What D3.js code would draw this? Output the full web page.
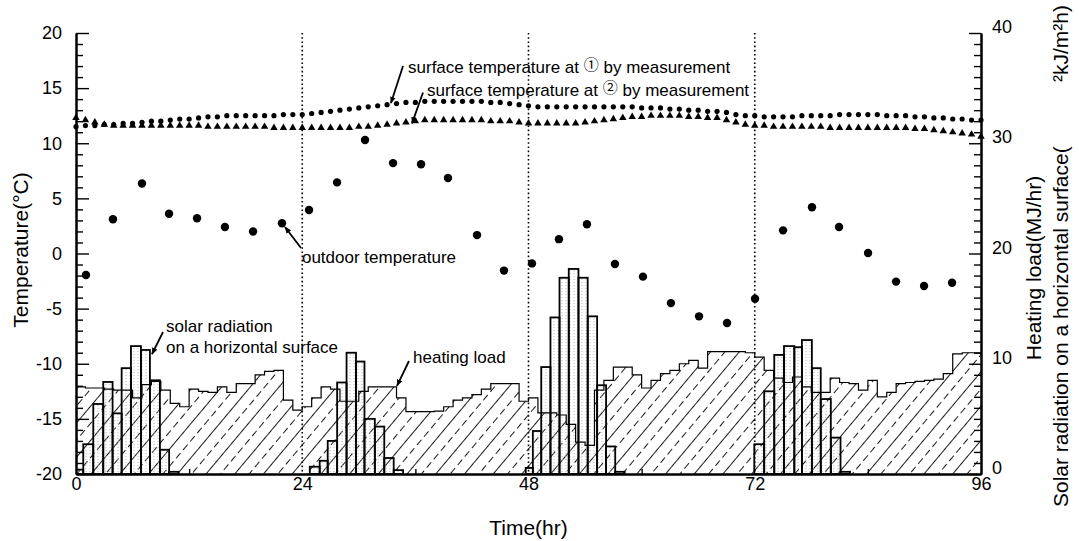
<!DOCTYPE html>
<html>
<head>
<meta charset="utf-8">
<script src="https://cdn.jsdelivr.net/npm/d3@7/dist/d3.min.js"></script>
<style>
body { margin: 0; background: #fff; }
text { font-family: "Liberation Sans", Arial, sans-serif; fill: #000; }
</style>
</head>
<body>
<script>
// ---- data ----
var hours = d3.range(0, 97);   // hourly points of the surface temperatures

var surfTemp1 = [11.5, 11.6, 11.6, 11.7, 11.7, 11.8, 11.8, 11.9, 12.0, 12.0,
  12.1, 12.2, 12.2, 12.3, 12.4, 12.4, 12.5, 12.5, 12.5, 12.5,
  12.5, 12.5, 12.6, 12.6, 12.6, 12.7, 12.8, 12.9, 13.0, 13.1,
  13.2, 13.3, 13.4, 13.5, 13.6, 13.7, 13.7, 13.8, 13.8, 13.8,
  13.8, 13.8, 13.8, 13.8, 13.7, 13.7, 13.6, 13.5, 13.4, 13.3,
  13.3, 13.3, 13.3, 13.3, 13.3, 13.3, 13.3, 13.3, 13.3, 13.3,
  13.2, 13.2, 13.2, 13.1, 13.1, 13.0, 13.0, 12.9, 12.9, 12.8,
  12.6, 12.5, 12.5, 12.4, 12.4, 12.4, 12.4, 12.5, 12.5, 12.5,
  12.5, 12.6, 12.6, 12.6, 12.6, 12.6, 12.5, 12.5, 12.5, 12.4,
  12.4, 12.3, 12.3, 12.2, 12.2, 12.1, 12.1];

var surfTemp2 = [12.3, 12.1, 11.9, 11.7, 11.6, 11.6, 11.6, 11.6, 11.6, 11.6,
  11.6, 11.6, 11.6, 11.6, 11.5, 11.5, 11.5, 11.5, 11.5, 11.5,
  11.5, 11.4, 11.4, 11.4, 11.4, 11.4, 11.4, 11.4, 11.4, 11.4,
  11.5, 11.5, 11.6, 11.7, 11.8, 11.9, 12.0, 12.1, 12.1, 12.1,
  12.1, 12.1, 12.1, 12.1, 12.0, 12.0, 12.0, 11.9, 11.8, 11.8,
  11.8, 11.8, 11.8, 11.8, 11.9, 12.0, 12.1, 12.2, 12.3, 12.4,
  12.4, 12.5, 12.5, 12.5, 12.5, 12.4, 12.4, 12.3, 12.3, 12.1,
  11.9, 11.7, 11.6, 11.6, 11.5, 11.5, 11.5, 11.5, 11.5, 11.5,
  11.4, 11.4, 11.4, 11.4, 11.4, 11.4, 11.4, 11.4, 11.4, 11.3,
  11.3, 11.2, 11.1, 11.0, 10.9, 10.8, 10.6];

var outdoorHours = [1.06, 3.92, 7.0, 9.87, 12.84, 15.8, 18.78, 21.85, 24.72, 27.69,
  30.66, 33.63, 36.6, 39.46, 42.54, 45.4, 48.37, 51.23, 54.2, 57.17,
  60.14, 63.11, 66.09, 69.06, 72.03, 75.0, 78.07, 80.94, 84.02, 86.99,
  89.96, 92.93];
var outdoorTemp = [-1.95, 3.1, 6.35, 3.6, 3.2, 2.4, 2.0, 2.75, 3.95, 6.45,
  10.3, 8.2, 8.1, 6.85, 1.67, -1.55, -0.9, 1.3, 2.65, -0.95,
  -2.1, -4.5, -5.7, -6.3, -4.1, 2.1, 4.2, 2.4, 0.05, -2.55,
  -2.95, -2.65];

// heating load, one value per hour (hour k .. k+1), MJ/hr
var heatingLoad = [7.9, 7.8, 7.8, 7.7, 7.6, 7.6, 6.9, 8.1, 8.4, 7.6,
  6.4, 6.1, 7.7, 7.5, 7.4, 7.9, 7.4, 8.2, 8.2, 9.0,
  9.3, 9.4, 6.7, 5.8, 6.1, 6.9, 7.9, 7.7, 6.6, 6.6,
  7.5, 7.9, 7.9, 7.9, 6.9, 5.65, 5.65, 5.65, 5.7, 6.1,
  6.7, 6.9, 7.2, 7.7, 8.2, 8.2, 8.2, 6.6, 6.9, 5.55,
  5.55, 5.35, 4.5, 2.9, 2.6, 7.6, 8.5, 9.7, 9.7, 9.0,
  7.8, 8.5, 9.1, 9.4, 10.0, 10.3, 9.6, 11.1, 11.1, 11.1,
  11.1, 11.0, 10.6, 9.4, 8.7, 8.3, 8.8, 7.9, 7.4, 7.4,
  8.7, 8.3, 8.2, 7.6, 8.5, 7.0, 7.4, 8.2, 8.3, 8.4,
  8.5, 8.6, 9.1, 10.9, 11.0, 11.0];

// solar radiation bars: left edge (hr) and height
var solarStart = [-0.22, 0.77, 1.83, 2.89, 3.88, 4.84, 5.83, 6.89, 7.84, 8.9, 9.88,
  24.8, 25.85, 26.7, 27.7, 28.7, 29.7, 30.6, 31.7, 32.7, 33.7,
  47.7, 48.46, 49.35, 50.33, 51.29, 52.27, 53.3, 54.28, 55.28, 56.23, 57.2,
  71.95, 73.0, 74.07, 75.1, 76.2, 77.0, 78.06, 79.0, 80.07, 81.1];
var solarValue = [0.4, 2.7, 6.35, 8.35, 5.5, 9.6, 11.6, 11.25, 8.5, 2.2, 0.2,
  0.66, 1.2, 3.0, 8.3, 11.0, 10.2, 5.0, 4.3, 1.45, 0.35,
  0.55, 3.9, 9.7, 14.2, 17.8, 18.6, 17.8, 14.3, 8.05, 2.5, 0.2,
  2.7, 7.5, 10.8, 11.6, 11.5, 12.15, 9.6, 6.8, 3.3, 0.2];

var timeTicks = [0, 24, 48, 72, 96];
var tempTicks = [-20, -15, -10, -5, 0, 5, 10, 15, 20];
var loadTicks = [0, 10, 20, 30, 40];
var dayLines = [24, 48, 72];

// ---- layout ----
var width = 1079, height = 541;
var x = d3.scaleLinear().domain([0, 96]).range([76, 981]);
var yL = d3.scaleLinear().domain([-20, 20]).range([474, 33]);
var yR = d3.scaleLinear().domain([0, 40]).range([474, 33]);

var svg = d3.select("body").append("svg")
    .attr("width", width)
    .attr("height", height);

var defs = svg.append("defs");

// diagonal hatch for the heating load, solid and dashed lines in turn
var hatch = defs.append("pattern")
    .attr("id", "hatch")
    .attr("patternUnits", "userSpaceOnUse")
    .attr("width", 22).attr("height", 22)
    .attr("patternTransform", "rotate(40)");
hatch.append("line").attr("x1", 0.5).attr("y1", 0).attr("x2", 0.5).attr("y2", 22)
    .attr("stroke", "#000").attr("stroke-width", 0.9);
hatch.append("line").attr("x1", 11.5).attr("y1", 0).attr("x2", 11.5).attr("y2", 22)
    .attr("stroke", "#000").attr("stroke-width", 0.9).attr("stroke-dasharray", "7,4");

// faint stipple inside the solar bars
var stip = defs.append("pattern")
    .attr("id", "stipple")
    .attr("patternUnits", "userSpaceOnUse")
    .attr("width", 4).attr("height", 3);
stip.append("rect").attr("x", 1.5).attr("y", 0).attr("width", 1).attr("height", 1.2)
    .attr("fill", "#bbb");

defs.append("clipPath").attr("id", "plotclip")
  .append("rect").attr("x", x(0)).attr("y", yL(20)).attr("width", x(96) - x(0)).attr("height", yL(-20) - yL(20));

defs.append("marker")
    .attr("id", "arrow")
    .attr("viewBox", "0 0 10 10")
    .attr("refX", 9).attr("refY", 5)
    .attr("markerWidth", 7).attr("markerHeight", 7)
    .attr("markerUnits", "userSpaceOnUse")
    .attr("orient", "auto")
  .append("path").attr("d", "M0,1 L10,5 L0,9 Z").attr("fill", "#000");

var plot = svg.append("g").attr("clip-path", "url(#plotclip)");

// heating load: hatched step area
var loadPts = heatingLoad.map(function(v, i) { return [i, v]; });
loadPts.push([96, heatingLoad[heatingLoad.length - 1]]);

plot.append("path")
    .datum(loadPts)
    .attr("fill", "url(#hatch)")
    .attr("d", d3.area().curve(d3.curveStepAfter)
        .x(function(d) { return x(d[0]); })
        .y0(yR(0))
        .y1(function(d) { return yR(d[1]); }));

// solar radiation bars
var bars = solarStart.map(function(s, i) {
  var next = solarStart[i + 1];
  var w = (next !== undefined && next - s < 1.5) ? next - s : 1;
  return { start: s, w: w, v: solarValue[i] };
});

plot.selectAll(".bar")
    .data(bars)
  .enter().append("rect")
    .attr("class", "bar")
    .attr("x", function(d) { return x(d.start); })
    .attr("width", function(d) { return x(d.start + d.w) - x(d.start); })
    .attr("y", function(d) { return yR(d.v); })
    .attr("height", function(d) { return yR(0) - yR(d.v); })
    .attr("fill", "url(#stipple)");

// step outline of the heating load
plot.append("path")
    .datum(loadPts)
    .attr("fill", "none")
    .attr("stroke", "#000")
    .attr("stroke-width", 1.2)
    .attr("d", d3.line().curve(d3.curveStepAfter)
        .x(function(d) { return x(d[0]); })
        .y(function(d) { return yR(d[1]); }));

plot.selectAll(".barline")
    .data(bars)
  .enter().append("rect")
    .attr("class", "barline")
    .attr("x", function(d) { return x(d.start); })
    .attr("width", function(d) { return x(d.start + d.w) - x(d.start); })
    .attr("y", function(d) { return yR(d.v); })
    .attr("height", function(d) { return yR(0) - yR(d.v); })
    .attr("fill", "none")
    .attr("stroke", "#000")
    .attr("stroke-width", 1.8);

// dotted day lines
svg.selectAll(".day")
    .data(dayLines)
  .enter().append("line")
    .attr("class", "day")
    .attr("x1", function(d) { return x(d); })
    .attr("x2", function(d) { return x(d); })
    .attr("y1", yL(20))
    .attr("y2", yL(-20))
    .attr("stroke", "#000")
    .attr("stroke-width", 1.6)
    .attr("stroke-dasharray", "1.6,2.6");

// ---- axes ----
var plain = function(d) { return String(d); };

var axL = svg.append("g").attr("transform", "translate(" + x(0) + ",0)");
axL.call(d3.axisLeft(yL).tickValues(tempTicks).tickFormat(plain)
    .tickSizeInner(-13).tickSizeOuter(0).tickPadding(14));
axL.append("g").call(d3.axisLeft(yL)
    .tickValues(d3.range(-20, 21).filter(function(v) { return v % 5 !== 0; }))
    .tickSizeInner(-7).tickSizeOuter(0).tickFormat(""));

var axR = svg.append("g").attr("transform", "translate(" + x(96) + ",0)");
axR.call(d3.axisRight(yR).tickValues(loadTicks).tickFormat(plain)
    .tickSizeInner(-12).tickSizeOuter(0).tickPadding(11));
axR.append("g").call(d3.axisRight(yR)
    .tickValues(d3.range(0, 41).filter(function(v) { return v % 10 !== 0; }))
    .tickSizeInner(-7).tickSizeOuter(0).tickFormat(""));
axR.selectAll("text").attr("dy", "-0.02em");

var axB = svg.append("g").attr("transform", "translate(0," + yL(-20) + ")");
axB.call(d3.axisBottom(x).tickValues(timeTicks).tickFormat(plain)
    .tickSizeInner(0).tickSizeOuter(0).tickPadding(3));
axB.append("g").call(d3.axisBottom(x).tickValues([12, 36, 60, 84])
    .tickSizeInner(-5).tickSizeOuter(0).tickFormat(""));

svg.selectAll(".domain").attr("stroke", "#000").attr("stroke-width", 2);
svg.selectAll(".tick line").attr("stroke", "#000").attr("stroke-width", 1.4);
svg.selectAll(".tick text").style("font-size", "18px").style("font-family", "'Liberation Sans', Arial, sans-serif");

// ---- points ----
svg.selectAll(".s1")
    .data(hours)
  .enter().append("circle")
    .attr("class", "s1")
    .attr("cx", function(d) { return x(d); })
    .attr("cy", function(d, i) { return yL(surfTemp1[i]); })
    .attr("r", 2.6)
    .attr("fill", "#000");

var tri = d3.symbol().type(d3.symbolTriangle).size(24);
svg.selectAll(".s2")
    .data(hours)
  .enter().append("path")
    .attr("class", "s2")
    .attr("d", tri)
    .attr("transform", function(d, i) {
      return "translate(" + x(d) + "," + yL(surfTemp2[i]) + ")"; })
    .attr("fill", "#000");

svg.selectAll(".out")
    .data(outdoorHours)
  .enter().append("circle")
    .attr("class", "out")
    .attr("cx", function(d) { return x(d); })
    .attr("cy", function(d, i) { return yL(outdoorTemp[i]); })
    .attr("r", 4.2)
    .attr("fill", "#000");

// ---- annotations (placed in data units) ----
function arrow(h1, t1, h2, t2) {
  svg.append("line")
      .attr("x1", x(h1)).attr("y1", yL(t1))
      .attr("x2", x(h2)).attr("y2", yL(t2))
      .attr("stroke", "#000").attr("stroke-width", 1.8)
      .attr("marker-end", "url(#arrow)");
}
function label(h, t, str) {
  return svg.append("text")
      .attr("x", x(h)).attr("y", yL(t)).attr("dy", "0.35em")
      .style("font-size", "17px")
      .text(str);
}
function circledLabel(h, t, mark) {
  var el = svg.append("text")
      .attr("x", x(h)).attr("y", yL(t)).attr("dy", "0.35em")
      .style("font-size", "17px");
  el.append("tspan").text("surface temperature at ");
  el.append("tspan").attr("dy", -3).style("font-size", "15px")
      .style("font-family", "'Noto Sans CJK JP', 'DejaVu Sans', sans-serif").text(mark);
  el.append("tspan").attr("dy", 3).text(" by measurement");
}

circledLabel(35.22, 16.92, "\u2460");
arrow(34.69, 17.0, 33.41, 13.65);
circledLabel(37.23, 14.83, "\u2461");
arrow(36.81, 14.6, 35.64, 11.8);

label(23.97, -0.32, "outdoor temperature");
arrow(23.87, 0.5, 22.17, 2.4);

label(9.55, -6.58, "solar radiation");
label(9.55, -8.48, "on a horizontal surface");
arrow(9.23, -7.12, 8.06, -9.12);

label(35.75, -9.39, "heating load");
arrow(35.32, -9.75, 34.05, -12.0);

// ---- axis titles ----
svg.append("text")
    .attr("transform", "translate(28,250) rotate(-90)")
    .attr("text-anchor", "middle")
    .style("font-size", "21px")
    .text("Temperature(\u00B0C)");

svg.append("text")
    .attr("x", x(48)).attr("y", 535)
    .attr("text-anchor", "middle")
    .style("font-size", "21px")
    .text("Time(hr)");

svg.append("text")
    .attr("transform", "translate(1041,268) rotate(-90)")
    .attr("text-anchor", "middle")
    .style("font-size", "21px")
    .text("Heating load(MJ/hr)");

svg.append("text")
    .attr("transform", "translate(1068,507) rotate(-90)")
    .attr("text-anchor", "start")
    .style("font-size", "21px")
    .text("Solar radiation on a horizontal surface(");

svg.append("text")
    .attr("transform", "translate(1068,82) rotate(-90)")
    .attr("text-anchor", "start")
    .style("font-size", "21px")
    .text("\u00B2kJ/m\u00B2h)");
</script>
</body>
</html>
